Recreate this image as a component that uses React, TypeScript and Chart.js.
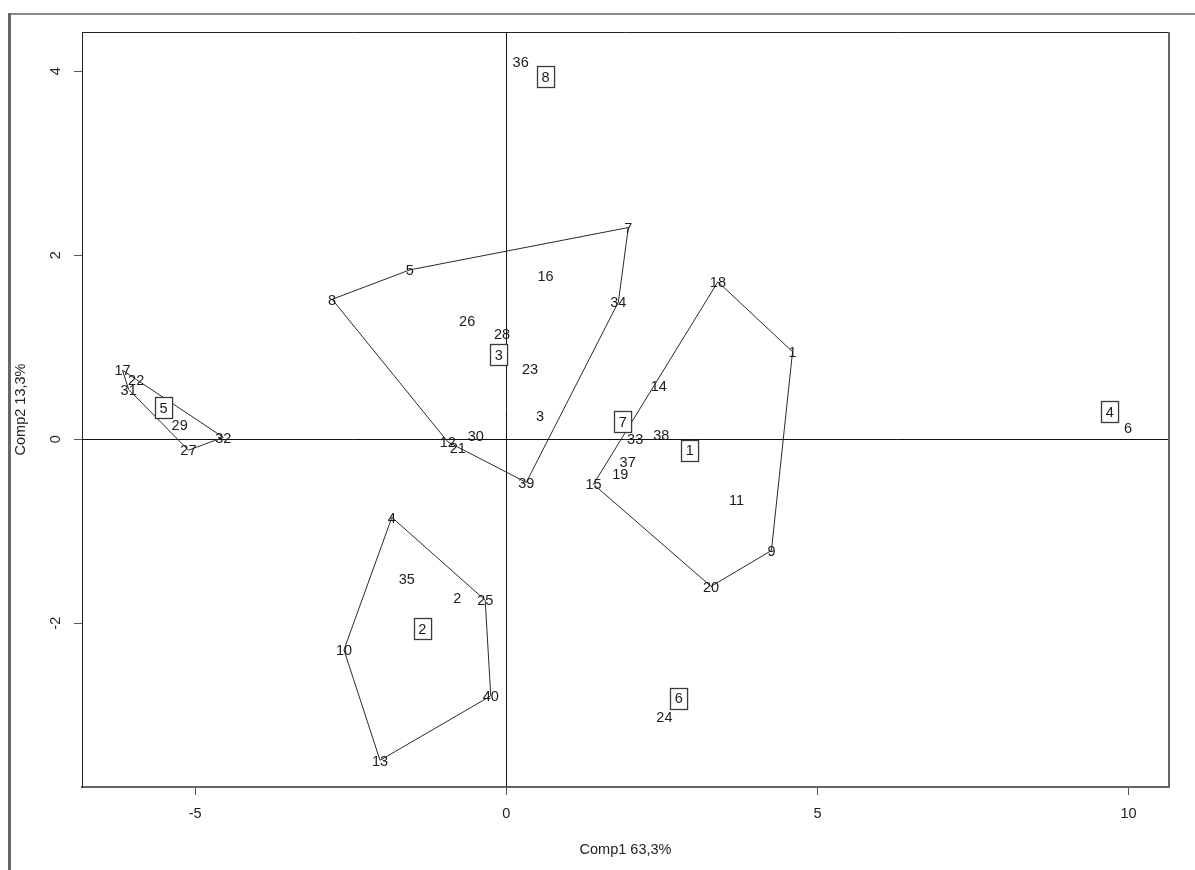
import React, { useEffect, useRef } from 'react';
import { Chart, registerables } from 'chart.js';

Chart.register(...registerables);

// ---- Data ----
const obsLabels = ['1','2','3','4','5','6','7','8','9','10','11','12','13','14','15','16','17','18','19','20','21','22','23','24','25','26','27','28','29','30','31','32','33','34','35','36','37','38','39','40'];
const obsX = [4.60, -0.79, 0.54, -1.84, -1.55, 9.99, 1.96, -2.80, 4.26, -2.61, 3.70, -0.94, -2.03, 2.45, 1.40, 0.63, -6.17, 3.40, 1.83, 3.29, -0.78, -5.95, 0.38, 2.54, -0.34, -0.63, -5.11, -0.07, -5.25, -0.49, -6.07, -4.55, 2.07, 1.80, -1.60, 0.23, 1.95, 2.49, 0.32, -0.25];
const obsY = [0.95, -1.72, 0.25, -0.85, 1.84, 0.12, 2.30, 1.52, -1.21, -2.29, -0.66, -0.03, -3.49, 0.58, -0.49, 1.77, 0.75, 1.71, -0.38, -1.60, -0.09, 0.65, 0.77, -3.02, -1.75, 1.29, -0.12, 1.14, 0.16, 0.04, 0.54, 0.02, 0.00, 1.49, -1.52, 4.10, -0.25, 0.05, -0.47, -2.79];

const centerLabels = ['1','2','3','4','5','6','7','8'];
const centerX = [2.95, -1.35, -0.12, 9.70, -5.51, 2.77, 1.87, 0.63];
const centerY = [-0.12, -2.06, 0.92, 0.30, 0.345, -2.815, 0.19, 3.94];

// Convex hull vertices (observation labels, in drawing order)
const hullCluster1 = ['18', '1', '9', '20', '15'];
const hullCluster2 = ['4', '25', '40', '13', '10'];
const hullCluster3 = ['8', '5', '7', '34', '39', '12'];
const hullCluster5 = ['17', '22', '32', '27', '31'];

const xTicks = [-5, 0, 5, 10];
const yTicks = [-2, 0, 2, 4];
const xRange = [-6.82, 10.65];
const yRange = [-3.78, 4.425];

const xTitle = 'Comp1 63,3%';
const yTitle = 'Comp2 13,3%';

const FONT = '"Liberation Sans", Arial, Helvetica, sans-serif';
const FS = 14.5;

function hullPoints(labels: string[]) {
  const pts = labels.map((l) => {
    const i = obsLabels.indexOf(l);
    return { x: obsX[i], y: obsY[i] };
  });
  pts.push(pts[0]);
  return pts;
}

const OBS_INDEX = 0;
const CENTER_INDEX = 1;

const decorPlugin = {
  id: 'decor',
  beforeDatasetsDraw(chart: any) {
    const { ctx, chartArea: a, scales } = chart;
    const x0 = Math.round(scales.x.getPixelForValue(0)) + 0.5;
    const y0 = Math.round(scales.y.getPixelForValue(0)) + 0.5;
    ctx.save();
    ctx.strokeStyle = '#111';
    ctx.lineWidth = 1;
    ctx.beginPath();
    ctx.moveTo(x0, a.top);
    ctx.lineTo(x0, a.bottom);
    ctx.moveTo(a.left, y0);
    ctx.lineTo(a.right, y0);
    ctx.stroke();
    ctx.restore();
  },
  afterDatasetsDraw(chart: any) {
    const { ctx } = chart;
    ctx.save();
    ctx.font = `${FS}px ${FONT}`;
    ctx.textAlign = 'center';
    ctx.textBaseline = 'alphabetic';
    ctx.fillStyle = '#1c1c1c';
    const meta = chart.getDatasetMeta(OBS_INDEX);
    meta.data.forEach((el: any, i: number) => {
      ctx.fillText(obsLabels[i], el.x, el.y + FS * 0.358);
    });
    const cmeta = chart.getDatasetMeta(CENTER_INDEX);
    cmeta.data.forEach((el: any, i: number) => {
      const t = centerLabels[i];
      const w = ctx.measureText(t).width + 9;
      const h = 21;
      const bx = Math.round(el.x - w / 2) + 0.5;
      const by = Math.round(el.y - h / 2) + 0.5;
      ctx.fillStyle = '#ffffff';
      ctx.fillRect(bx, by, w, h);
      ctx.strokeStyle = '#3a3a3a';
      ctx.lineWidth = 1.3;
      ctx.strokeRect(bx, by, w, h);
      ctx.fillStyle = '#1c1c1c';
      ctx.fillText(t, el.x, el.y + FS * 0.358);
    });
    ctx.restore();
  },
  afterDraw(chart: any) {
    const { ctx, chartArea: a } = chart;
    ctx.save();
    // plot frame: top and right edges
    ctx.strokeStyle = '#222';
    ctx.lineWidth = 1;
    ctx.beginPath();
    ctx.moveTo(a.left, a.top + 0.5);
    ctx.lineTo(a.right, a.top + 0.5);
    ctx.stroke();
    ctx.strokeStyle = '#666';
    ctx.lineWidth = 2;
    ctx.beginPath();
    ctx.moveTo(a.right, a.top);
    ctx.lineTo(a.right, a.bottom + 1);
    ctx.stroke();
    // outer window frame
    ctx.fillStyle = '#8a8a8a';
    ctx.fillRect(8, 13, chart.width - 8, 2);
    ctx.fillStyle = '#666';
    ctx.fillRect(8, 13, 3, chart.height - 13);
    ctx.restore();
  },
};

export default function App() {
  const ref = useRef<HTMLCanvasElement | null>(null);

  useEffect(() => {
    document.body.style.margin = '0';
    const canvas = ref.current;
    if (!canvas) return;

    const hullStyle = {
      type: 'line' as const,
      showLine: true,
      borderColor: '#2a2a2a',
      borderWidth: 1,
      pointRadius: 0,
      fill: false,
      tension: 0,
    };

    const chart = new Chart(canvas, {
      type: 'scatter',
      data: {
        datasets: [
          {
            label: 'obs',
            data: obsX.map((x, i) => ({ x, y: obsY[i] })),
            pointRadius: 0,
            showLine: false,
          },
          {
            label: 'centers',
            data: centerX.map((x, i) => ({ x, y: centerY[i] })),
            pointRadius: 0,
            showLine: false,
          },
          { ...hullStyle, label: 'h1', data: hullPoints(hullCluster1) },
          { ...hullStyle, label: 'h2', data: hullPoints(hullCluster2) },
          { ...hullStyle, label: 'h3', data: hullPoints(hullCluster3) },
          { ...hullStyle, label: 'h5', data: hullPoints(hullCluster5) },
        ] as any,
      },
      options: {
        responsive: false,
        animation: false,
        devicePixelRatio: 1,
        events: [],
        layout: { padding: { top: 32, right: 26, left: 0, bottom: 0 } },
        plugins: {
          legend: { display: false },
          tooltip: { enabled: false },
          title: { display: false },
        },
        scales: {
          x: {
            type: 'linear',
            position: 'bottom',
            min: xRange[0],
            max: xRange[1],
            afterBuildTicks: (scale: any) => {
              scale.ticks = xTicks.map((v) => ({ value: v }));
            },
            afterFit: (scale: any) => {
              scale.height = 83;
            },
            grid: {
              display: true,
              drawOnChartArea: false,
              drawTicks: true,
              tickLength: 8,
              color: '#555',
              lineWidth: 1,
            },
            border: { display: true, color: '#666', width: 2 },
            ticks: {
              font: { family: FONT, size: FS },
              color: '#222',
              padding: 10,
              maxRotation: 0,
              minRotation: 0,
              autoSkip: false,
            },
            title: {
              display: true,
              text: xTitle,
              font: { family: FONT, size: FS },
              color: '#222',
              padding: { top: 0, bottom: 11.3 },
            },
          },
          y: {
            type: 'linear',
            position: 'left',
            min: yRange[0],
            max: yRange[1],
            afterBuildTicks: (scale: any) => {
              scale.ticks = yTicks.map((v) => ({ value: v }));
            },
            afterFit: (scale: any) => {
              scale.width = 82;
            },
            grid: {
              display: true,
              drawOnChartArea: false,
              drawTicks: true,
              tickLength: 8,
              color: '#555',
              lineWidth: 1,
            },
            border: { display: true, color: '#222', width: 1 },
            ticks: {
              font: { family: FONT, size: FS },
              color: '#222',
              padding: 11.5,
              minRotation: 90,
              maxRotation: 90,
              crossAlign: 'center',
              autoSkip: false,
            },
            title: {
              display: true,
              text: yTitle,
              font: { family: FONT, size: FS },
              color: '#222',
              padding: { top: 12.3, bottom: 0 },
            },
          },
        },
      } as any,
      plugins: [decorPlugin],
    });

    return () => {
      chart.destroy();
    };
  }, []);

  return (
    <canvas
      ref={ref}
      width={1195}
      height={870}
      style={{ display: 'block', width: '1195px', height: '870px' }}
    />
  );
}
